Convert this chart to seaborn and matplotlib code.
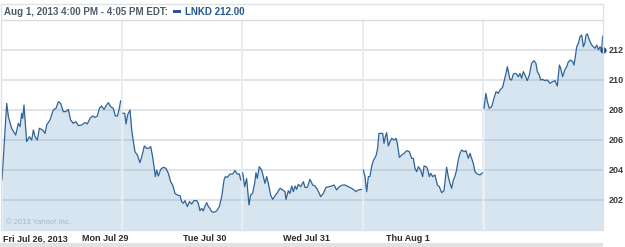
import matplotlib
matplotlib.use("Agg")
import matplotlib.pyplot as plt
import seaborn as sns
import pandas as pd
from matplotlib.patches import Rectangle

# ---- data: time in trading sessions since Fri Jul 26 open, price in USD ----
fri_t = [0.000, 0.039, 0.053, 0.080, 0.114, 0.136, 0.150, 0.164, 0.172, 0.183, 0.205, 0.227, 0.247,
         0.261, 0.275, 0.294, 0.311, 0.338, 0.358, 0.372, 0.399, 0.427, 0.449, 0.469, 0.488, 0.510,
         0.532, 0.552, 0.571, 0.593, 0.616, 0.635, 0.663, 0.691, 0.710, 0.732, 0.754, 0.774, 0.793,
         0.810, 0.829, 0.849, 0.865, 0.885, 0.904, 0.926, 0.943, 0.960, 0.976, 0.987]
fri_p = [203.33, 208.44, 207.56, 206.78, 206.33, 207.11, 206.89, 207.78, 207.44, 208.33, 205.89, 206.22, 206.00,
         206.67, 206.22, 206.00, 206.78, 206.67, 206.44, 207.00, 207.33, 208.00, 208.11, 208.56, 208.44, 207.89,
         207.89, 208.04, 207.33, 207.11, 207.22, 206.96, 207.00, 207.16, 207.07, 207.44, 207.60, 207.51, 207.60,
         208.11, 208.27, 208.04, 208.27, 208.49, 208.22, 208.11, 207.60, 207.60, 208.11, 208.62]

mon_t = [1.004, 1.021, 1.032, 1.045, 1.065, 1.079, 1.093, 1.106, 1.126, 1.148, 1.170, 1.184, 1.204, 1.220,
         1.237, 1.253, 1.265, 1.276, 1.287, 1.301, 1.320, 1.342, 1.364, 1.384, 1.403, 1.420, 1.439, 1.459,
         1.481, 1.495, 1.509, 1.522, 1.542, 1.559, 1.578, 1.597, 1.620, 1.633, 1.647, 1.661, 1.675, 1.689,
         1.703, 1.717, 1.730, 1.744, 1.764, 1.786, 1.808, 1.828, 1.847, 1.858, 1.875, 1.897, 1.919, 1.938,
         1.958, 1.975, 1.986]
mon_p = [207.78, 207.78, 207.07, 207.67, 208.00, 206.67, 205.89, 205.22, 205.00, 204.49, 205.11, 205.60, 205.44, 205.44,
         205.56, 204.89, 204.22, 203.56, 204.00, 203.60, 204.04, 204.18, 204.11, 203.78, 203.22, 203.00, 202.44, 202.33,
         202.29, 201.89, 201.78, 201.96, 201.56, 201.89, 201.73, 201.96, 201.96, 201.78, 201.29, 201.44, 201.27, 201.60,
         201.82, 201.56, 201.44, 201.22, 201.18, 201.27, 201.56, 202.22, 203.33, 203.56, 203.51, 203.73, 203.73, 203.96,
         203.73, 203.73, 203.33]

tue_t = [2.002, 2.019, 2.035, 2.055, 2.069, 2.085, 2.102, 2.113, 2.124, 2.141, 2.160, 2.174, 2.188, 2.202,
         2.216, 2.235, 2.252, 2.271, 2.291, 2.313, 2.335, 2.354, 2.363, 2.382, 2.396, 2.410, 2.424, 2.438,
         2.451, 2.465, 2.485, 2.507, 2.521, 2.540, 2.562, 2.585, 2.604, 2.623, 2.640, 2.651, 2.673, 2.695,
         2.723, 2.743, 2.762, 2.784, 2.806, 2.834, 2.853, 2.881, 2.909, 2.928, 2.945, 2.964, 2.992]
tue_p = [203.82, 202.89, 203.44, 201.67, 202.33, 202.44, 203.11, 203.82, 203.44, 204.22, 204.00, 203.56, 203.11, 203.56,
         203.11, 202.33, 202.04, 202.27, 202.49, 202.78, 202.67, 202.56, 202.04, 202.62, 202.44, 202.93, 202.56, 202.93,
         202.71, 203.04, 202.89, 203.22, 202.84, 202.84, 203.38, 203.00, 202.93, 202.71, 202.44, 202.22, 202.44, 202.84,
         202.89, 202.93, 203.00, 202.67, 202.89, 203.00, 203.00, 202.89, 202.78, 202.67, 202.56, 202.67, 202.71]

wed_t = [3.006, 3.020, 3.034, 3.048, 3.061, 3.075, 3.089, 3.111, 3.125, 3.136, 3.150, 3.167, 3.178, 3.189,
         3.200, 3.214, 3.228, 3.242, 3.261, 3.278, 3.289, 3.306, 3.325, 3.345, 3.367, 3.389, 3.408, 3.422,
         3.436, 3.450, 3.464, 3.483, 3.500, 3.511, 3.528, 3.539, 3.555, 3.566, 3.583, 3.602, 3.622, 3.638,
         3.658, 3.677, 3.699, 3.713, 3.727, 3.741, 3.755, 3.768, 3.782, 3.796, 3.810, 3.824, 3.844, 3.860,
         3.880, 3.894, 3.907, 3.921, 3.935, 3.955, 3.977, 3.999]
wed_p = [204.00, 203.56, 202.56, 203.56, 203.56, 204.22, 204.62, 204.93, 205.44, 206.44, 206.44, 206.44, 205.78, 206.22,
         206.49, 205.60, 205.89, 206.11, 206.00, 206.11, 205.78, 204.84, 205.00, 205.11, 205.29, 205.22, 204.78, 204.78,
         204.11, 203.89, 204.22, 204.00, 203.56, 204.27, 204.22, 204.11, 203.56, 203.78, 203.56, 203.67, 203.00, 202.89,
         202.49, 202.62, 204.18, 203.56, 203.11, 202.78, 203.33, 203.56, 204.00, 204.67, 205.11, 205.33, 205.22, 205.29,
         204.78, 205.11, 204.78, 204.44, 203.89, 203.73, 203.67, 203.82]

thu_t = [4.010, 4.026, 4.038, 4.054, 4.074, 4.093, 4.110, 4.129, 4.143, 4.165, 4.176, 4.193, 4.204, 4.226,
         4.240, 4.254, 4.276, 4.296, 4.309, 4.323, 4.337, 4.351, 4.370, 4.387, 4.406, 4.426, 4.442, 4.454,
         4.470, 4.481, 4.498, 4.517, 4.537, 4.559, 4.581, 4.601, 4.620, 4.637, 4.648, 4.664, 4.684, 4.698,
         4.712, 4.731, 4.748, 4.759, 4.770, 4.781, 4.795, 4.809, 4.823, 4.837, 4.850, 4.858, 4.870, 4.886,
         4.906, 4.920, 4.934, 4.948, 4.962, 4.975, 4.989, 4.997]
thu_p = [208.11, 209.11, 208.56, 208.11, 208.22, 208.78, 209.22, 209.11, 209.33, 209.51, 209.89, 210.44, 210.89, 210.04,
         210.00, 210.40, 210.44, 210.22, 210.44, 210.11, 210.56, 210.33, 209.96, 210.33, 211.11, 211.29, 211.11, 210.56,
         210.33, 210.00, 210.04, 209.96, 210.00, 209.78, 209.89, 209.96, 209.60, 211.00, 210.78, 210.22, 210.71, 210.89,
         211.22, 211.33, 211.22, 211.00, 211.56, 212.22, 212.44, 212.89, 213.00, 212.22, 212.49, 213.00, 213.07, 212.67,
         212.33, 212.22, 212.11, 212.33, 212.00, 212.22, 212.00, 212.93]

last_t = 5.0
last_price = 212.00
ticker = "LNKD"
header = "Aug 1, 2013 4:00 PM - 4:05 PM EDT:"
day_labels = ["Fri Jul 26, 2013", "Mon Jul 29", "Tue Jul 30", "Wed Jul 31", "Thu Aug 1"]
y_ticks = [202, 204, 206, 208, 210, 212]

sessions = [(fri_t, fri_p), (mon_t, mon_p), (tue_t, tue_p), (wed_t, wed_p), (thu_t, thu_p)]
frames = []
for i, (t, p) in enumerate(sessions):
    frames.append(pd.DataFrame({"t": t, "price": p, "session": i}))
df = pd.concat(frames, ignore_index=True)

# ---- style ----
sns.set_theme(style="white")
plt.rcParams["font.family"] = ["Liberation Sans Narrow", "Liberation Sans", "DejaVu Sans"]

W, H = 625, 247
fig = plt.figure(figsize=(W / 100, H / 100), dpi=100)
fig.patch.set_facecolor("white")

def fx(px):
    return px / W

def fy(py):
    return 1 - py / H

ax = fig.add_axes([fx(2), fy(230), fx(603) - fx(2), fy(20) - fy(230)])
ax.set_facecolor("white")

LINE = "#2f6397"
FILL = "#d6e5f0"

ax.set_xlim(0, 5)
ax.set_ylim(200, 214)

# fill per session
for i, (t, p) in enumerate(sessions):
    ax.fill_between(t, 200, p, color=FILL, lw=0, zorder=1)

# horizontal grid (on top of fill, semi-transparent)
for v in y_ticks:
    ax.axhline(v, color=(0.55, 0.62, 0.70), alpha=0.3, lw=1.3, zorder=2)
# vertical day separators
for d in range(1, 5):
    ax.axvline(d, color="#e6ecf1", lw=1.3, zorder=2)

sns.lineplot(data=df, x="t", y="price", units="session", estimator=None,
             color=LINE, lw=0.9, ax=ax, zorder=3, legend=False)
ax.plot([last_t], [last_price], "o", color="#1f4f80", ms=3.5, zorder=4, clip_on=False)

# ticks
ax.yaxis.tick_right()
ax.set_yticks(y_ticks)
ax.set_yticklabels([str(v) for v in y_ticks], fontsize=6.5, fontweight="bold", color="#3a3a3a")
ax.tick_params(axis="y", length=0, pad=4)

label_pos = [0.008, 0.666, 1.506, 2.338, 3.195]
ax.set_xticks(label_pos)
ax.set_xticklabels(day_labels, fontsize=6.5, fontweight="bold", color="#2a2a2a", ha="left")
ax.tick_params(axis="x", length=0, pad=3)
ax.set_xlabel("")
ax.set_ylabel("")

for s in ["left", "right", "top", "bottom"]:
    ax.spines[s].set_visible(False)
ax.spines["top"].set_visible(True)
ax.spines["top"].set_color("#d5dce3")
ax.spines["top"].set_linewidth(1.0)

# outer frame and header
fig.patches.append(Rectangle((fx(1), fy(230)), fx(603) - fx(1), fy(4) - fy(230),
                             transform=fig.transFigure, fill=False, ec="#dde2e7", lw=1.0, zorder=0))
fig.patches.append(Rectangle((fx(0), fy(247)), fx(603), fy(243) - fy(247),
                             transform=fig.transFigure, fc="#e2e2e2", ec="none", zorder=0))
fig.text(fx(4), fy(12), header, fontsize=7, fontweight="bold", color="#4f5b66",
         ha="left", va="center")
fig.patches.append(Rectangle((fx(173), fy(13.5)), fx(8), fy(10.5) - fy(13.5),
                             transform=fig.transFigure, fc="#24578f", ec="none"))
fig.text(fx(185), fy(12), f"{ticker} {last_price:.2f}", fontsize=7, fontweight="bold",
         color="#24578f", ha="left", va="center")

ax.text(0.006, 0.02, "\u00a9 2013 Yahoo! Inc.", transform=ax.transAxes, fontsize=5.5,
        color="#a9b8c5", ha="left", va="bottom", zorder=5)

fig.savefig("out.png", dpi=100, facecolor="white")
